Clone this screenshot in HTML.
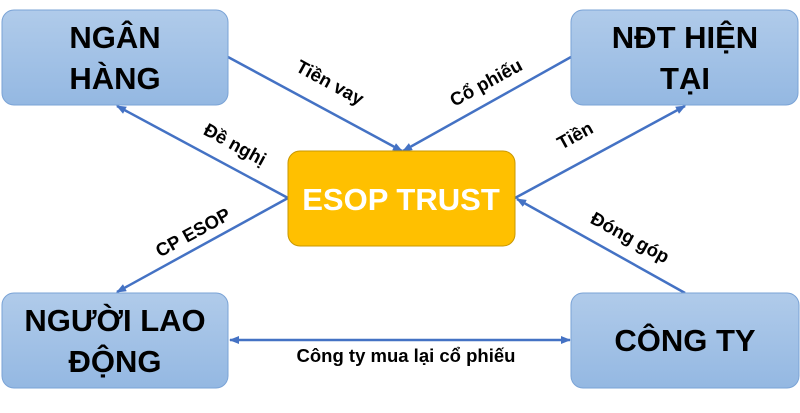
<!DOCTYPE html>
<html><head><meta charset="utf-8"><style>
body{margin:0;background:#fff;width:800px;height:408px;overflow:hidden}
text{font-family:"Liberation Sans",sans-serif;font-weight:bold}
</style></head><body>
<svg width="800" height="408" viewBox="0 0 800 408" xmlns="http://www.w3.org/2000/svg">
<defs>
<linearGradient id="b" x1="0" y1="0" x2="0" y2="1"><stop offset="0" stop-color="#b0cbea"/><stop offset="1" stop-color="#94b8e2"/></linearGradient>
<marker id="a" markerWidth="10" markerHeight="8" refX="9" refY="4" orient="auto" markerUnits="userSpaceOnUse"><path d="M0,0 L10,4 L0,8 z" fill="#4472c4"/></marker>
</defs>
<g stroke="#4472c4" stroke-width="2.5" fill="none" marker-end="url(#a)">
<line x1="228" y1="57" x2="402" y2="151"/>
<line x1="571" y1="57" x2="403" y2="151"/>
<line x1="288" y1="198" x2="117" y2="106"/>
<line x1="288" y1="198" x2="117" y2="292"/>
<line x1="515" y1="198" x2="685" y2="106"/>
<line x1="685" y1="293" x2="517" y2="199"/>
<line x1="300" y1="340" x2="570" y2="340"/>
<line x1="300" y1="340" x2="230" y2="340"/>
</g>
<g stroke="#7aa3d6" stroke-width="1" fill="url(#b)">
<rect x="2" y="10" width="226" height="95" rx="12"/>
<rect x="571" y="10" width="227" height="95" rx="12"/>
<rect x="2" y="293" width="226" height="95" rx="12"/>
<rect x="571" y="293" width="228" height="95" rx="12"/>
</g>
<rect x="288" y="151" width="227" height="95" rx="12" fill="#ffc000" stroke="#c99700" stroke-width="1"/>
<g font-size="31" text-anchor="middle" fill="#000">
<text x="115" y="48">NGÂN</text><text x="115" y="89">HÀNG</text>
<text x="685" y="48">NĐT HIỆN</text><text x="685" y="89">TẠI</text>
<text x="115" y="331">NGƯỜI LAO</text><text x="115" y="372">ĐỘNG</text>
<text x="685" y="351">CÔNG TY</text>
</g>
<text x="401" y="210" font-size="31" text-anchor="middle" fill="#fff">ESOP TRUST</text>
<g font-size="18.5" text-anchor="middle" fill="#000">
<text transform="translate(327,88) rotate(28.6)">Tiền vay</text>
<text transform="translate(489,88) rotate(-28.6)">Cổ phiếu</text>
<text transform="translate(232,150) rotate(28.6)">Đề nghị</text>
<text transform="translate(196,238) rotate(-28.6)">CP ESOP</text>
<text transform="translate(578,141) rotate(-28.6)">Tiền</text>
<text transform="translate(627,243) rotate(28.6)">Đóng góp</text>
<text x="406" y="362">Công ty mua lại cổ phiếu</text>
</g>
</svg>
</body></html>
